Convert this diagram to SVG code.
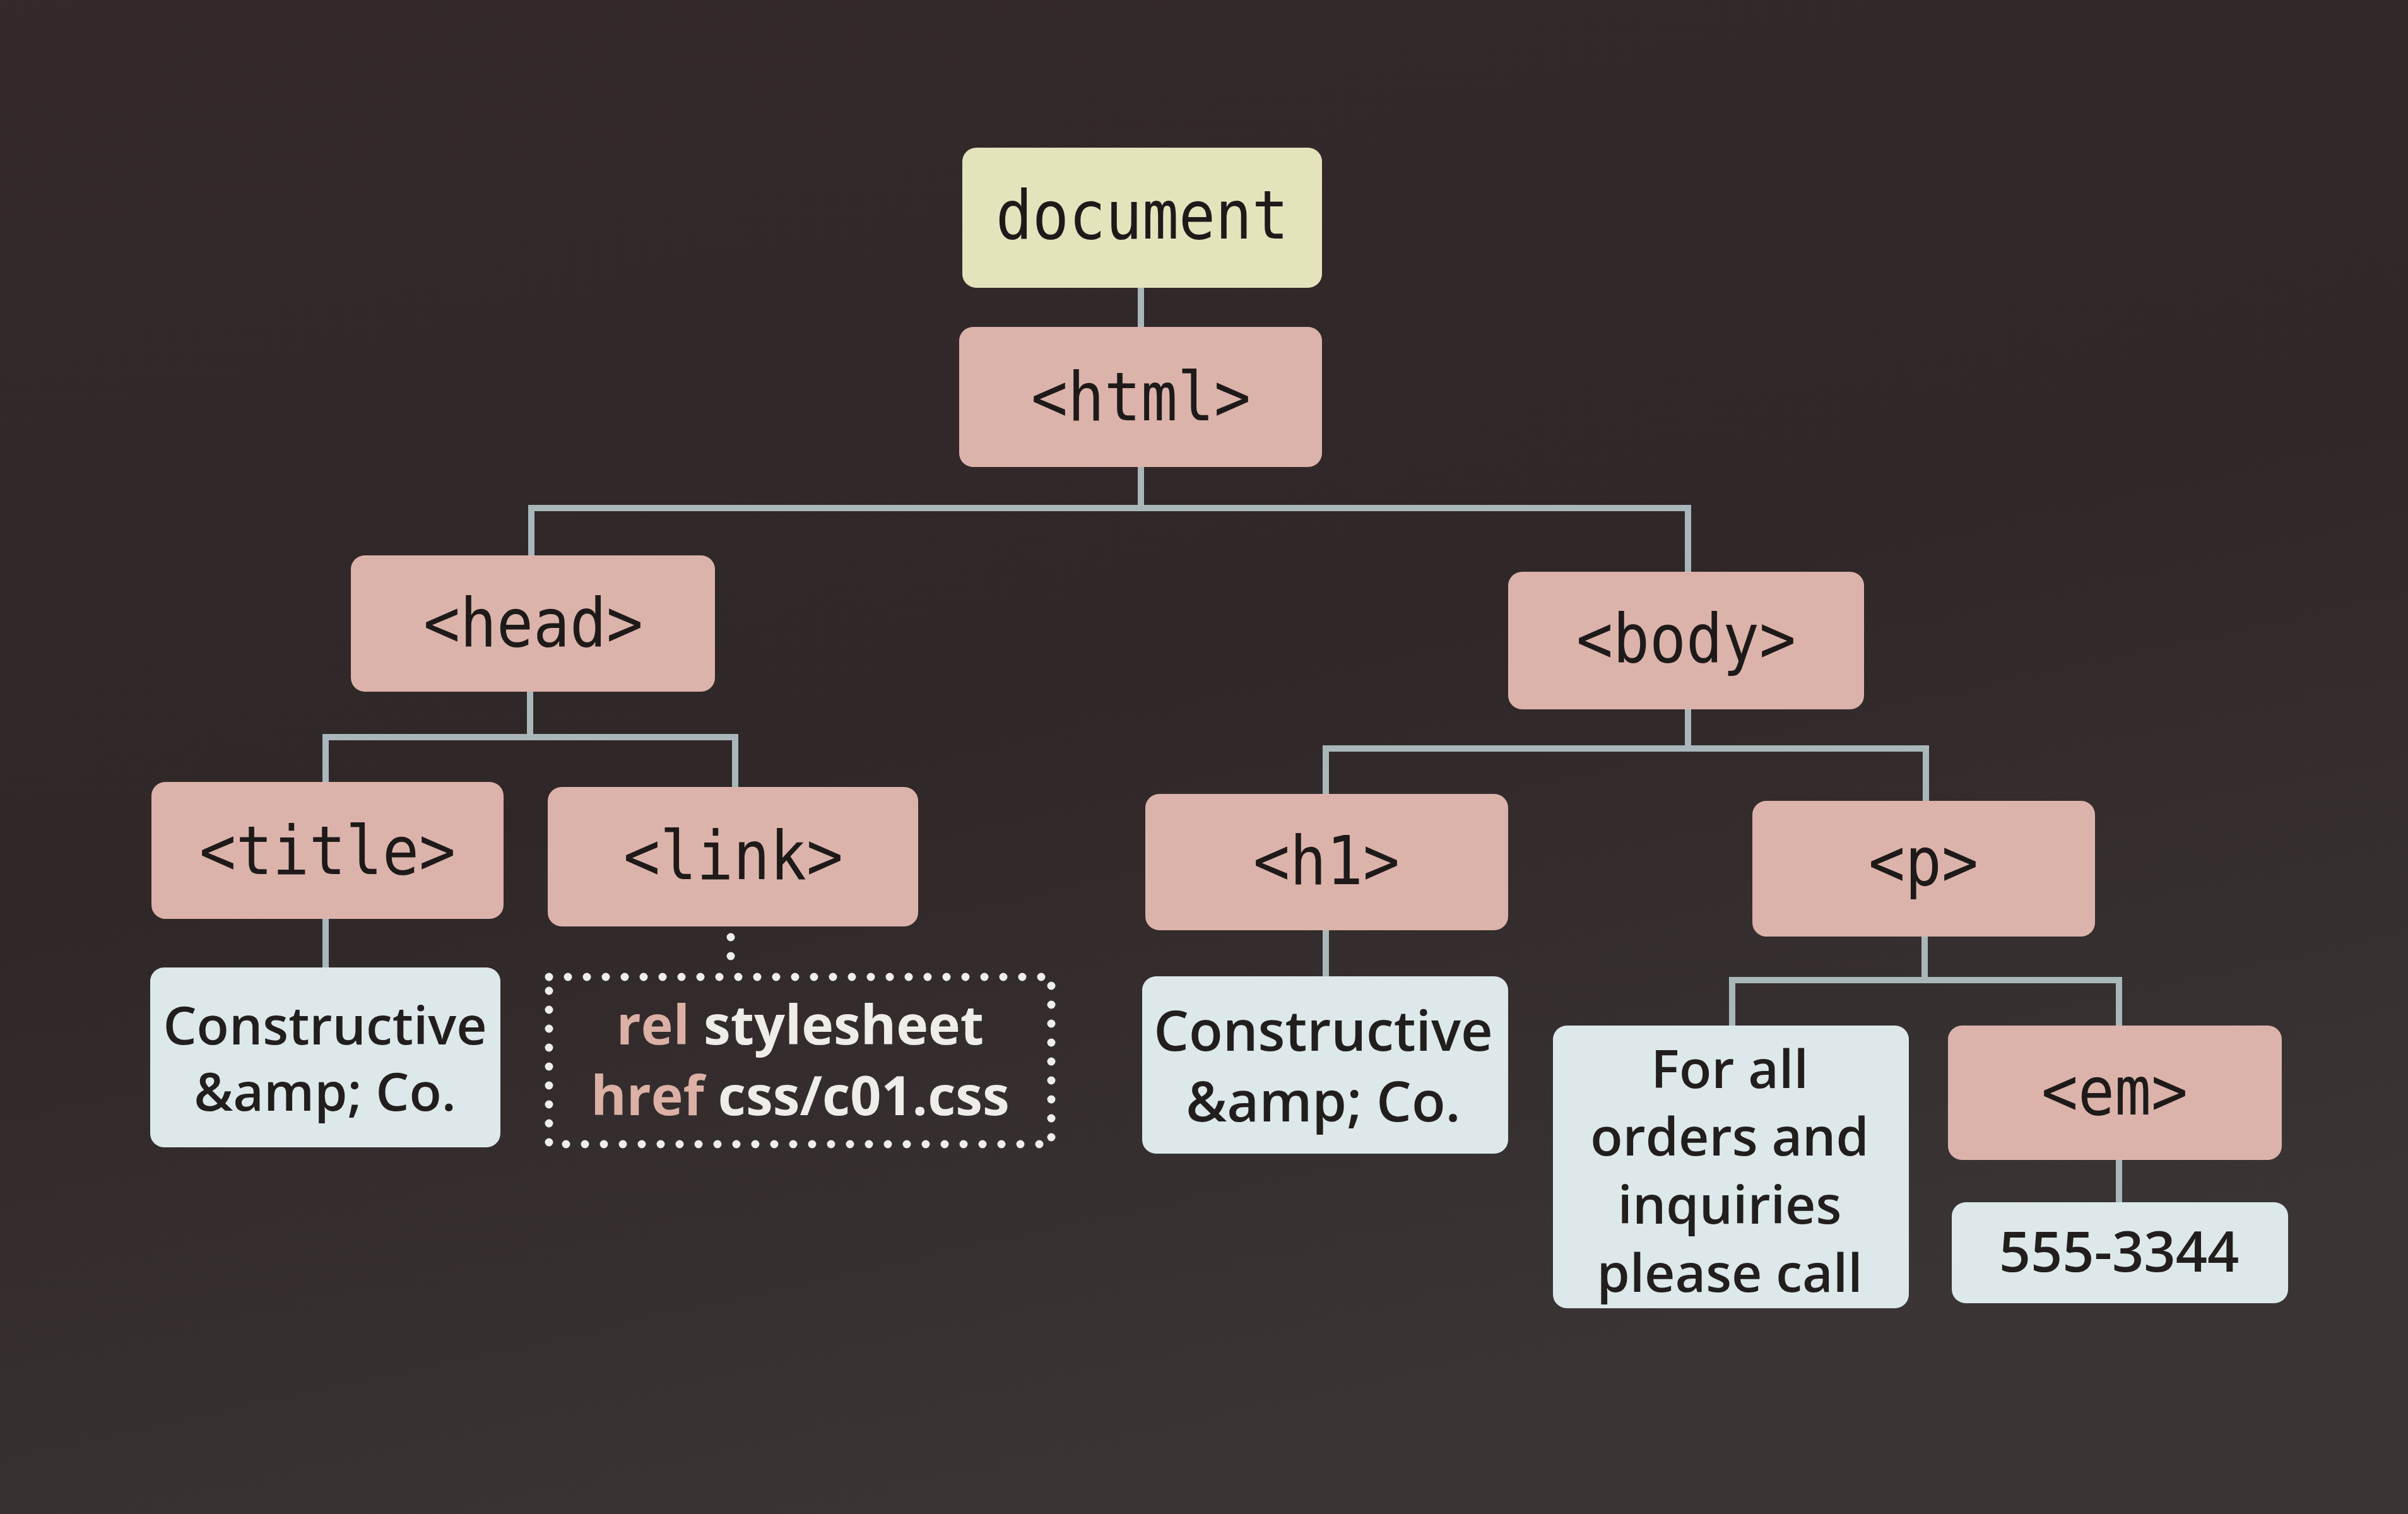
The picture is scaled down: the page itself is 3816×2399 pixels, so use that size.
<svg xmlns="http://www.w3.org/2000/svg" width="3816" height="2399" viewBox="0 0 3816 2399">
<defs>
<linearGradient id="bg" x1="0" y1="0" x2="0.35" y2="1">
<stop offset="0" stop-color="#342a2b"/>
<stop offset="0.55" stop-color="#302728"/>
<stop offset="1" stop-color="#3a3434"/>
</linearGradient>
<style>
.tag{fill:#dcb3aa}
.doc{fill:#e3e4bc}
.txt{fill:#dde8ea}
.mono{font-family:"DejaVu Sans Mono","Liberation Mono",monospace;font-size:107px;fill:#1e1a1a;text-anchor:middle}
.sans{font-family:"Open Sans","Noto Sans","Liberation Sans",sans-serif;font-weight:600;font-size:84px;fill:#221e1e;text-anchor:middle}
.sans2{font-family:"Open Sans","Noto Sans","Liberation Sans",sans-serif;font-weight:600;font-size:88px;fill:#221e1e;text-anchor:middle}
.attr{font-family:"Open Sans","Noto Sans","Liberation Sans",sans-serif;font-weight:700;font-size:86px;text-anchor:middle}
.conn{stroke:#a9b7bb;stroke-width:10;fill:none}
.dots{stroke:#eeeeea;stroke-width:13;stroke-linecap:round;stroke-dasharray:0 30;fill:none}
.pk{fill:#dcb0a5}
.wh{fill:#eeede8}
</style>
</defs>
<rect width="3816" height="2399" fill="url(#bg)"/>
<g id="connectors">
<path class="conn" d="M1808 456V518"/>
<path class="conn" d="M1808 740V805M842 880V805H2675V906"/>
<path class="conn" d="M840 1096V1168M516 1239V1168H1165V1247"/>
<path class="conn" d="M516 1456V1533"/>
<path class="dots" d="M1158 1485V1516"/>
<path class="conn" d="M2675 1124V1186M2101 1258V1186H3052V1269"/>
<path class="conn" d="M2101 1474V1547"/>
<path class="conn" d="M3050 1484V1553M2745 1625V1553H3358V1625"/>
<path class="conn" d="M3358 1838V1905"/>
</g>
<g id="document">
<rect class="doc" x="1525" y="234" width="570" height="222" rx="22"/>
<text class="mono" transform="translate(1810 378) scale(0.9 1)">document</text>
</g>
<g id="html">
<rect class="tag" x="1520" y="518" width="575" height="222" rx="22"/>
<text class="mono" transform="translate(1808 666) scale(0.9 1)">&lt;html&gt;</text>
</g>
<g id="head">
<rect class="tag" x="556" y="880" width="577" height="216" rx="22"/>
<text class="mono" transform="translate(845 1024) scale(0.9 1)">&lt;head&gt;</text>
</g>
<g id="body">
<rect class="tag" x="2390" y="906" width="564" height="218" rx="22"/>
<text class="mono" transform="translate(2672 1049) scale(0.9 1)">&lt;body&gt;</text>
</g>
<g id="title">
<rect class="tag" x="240" y="1239" width="558" height="217" rx="22"/>
<text class="mono" transform="translate(519 1385) scale(0.9 1)">&lt;title&gt;</text>
</g>
<g id="link">
<rect class="tag" x="868" y="1247" width="587" height="221" rx="22"/>
<text class="mono" transform="translate(1162 1393) scale(0.9 1)">&lt;link&gt;</text>
</g>
<g id="h1">
<rect class="tag" x="1815" y="1258" width="575" height="216" rx="22"/>
<text class="mono" transform="translate(2102 1401) scale(0.9 1)">&lt;h1&gt;</text>
</g>
<g id="p">
<rect class="tag" x="2777" y="1269" width="543" height="215" rx="22"/>
<text class="mono" transform="translate(3048 1403) scale(0.9 1)">&lt;p&gt;</text>
</g>
<g id="title-text">
<rect class="txt" x="238" y="1533" width="555" height="285" rx="22"/>
<text class="sans" x="515" y="1655">Constructive</text>
<text class="sans" x="515" y="1760">&amp;amp; Co.</text>
</g>
<g id="link-attrs">
<rect class="dots" x="870" y="1548" width="796" height="265"/>
<text class="attr" x="1268" y="1655"><tspan class="pk">rel</tspan><tspan class="wh" dx="22">stylesheet</tspan></text>
<text class="attr" x="1268" y="1767"><tspan class="pk">href</tspan><tspan class="wh" dx="22">css/c01.css</tspan></text>
</g>
<g id="h1-text">
<rect class="txt" x="1810" y="1547" width="580" height="281" rx="22"/>
<text class="sans2" x="2097" y="1665">Constructive</text>
<text class="sans2" x="2097" y="1777">&amp;amp; Co.</text>
</g>
<g id="p-text">
<rect class="txt" x="2461" y="1625" width="564" height="448" rx="22"/>
<text class="sans" x="2741" y="1724">For all</text>
<text class="sans" x="2741" y="1831">orders and</text>
<text class="sans" x="2741" y="1939">inquiries</text>
<text class="sans" x="2741" y="2047">please call</text>
</g>
<g id="em">
<rect class="tag" x="3087" y="1625" width="529" height="213" rx="22"/>
<text class="mono" transform="translate(3351 1766) scale(0.9 1)">&lt;em&gt;</text>
</g>
<g id="em-text">
<rect class="txt" x="3093" y="1905" width="533" height="160" rx="22"/>
<text class="sans2" x="3358" y="2015">555-3344</text>
</g>
</svg>
